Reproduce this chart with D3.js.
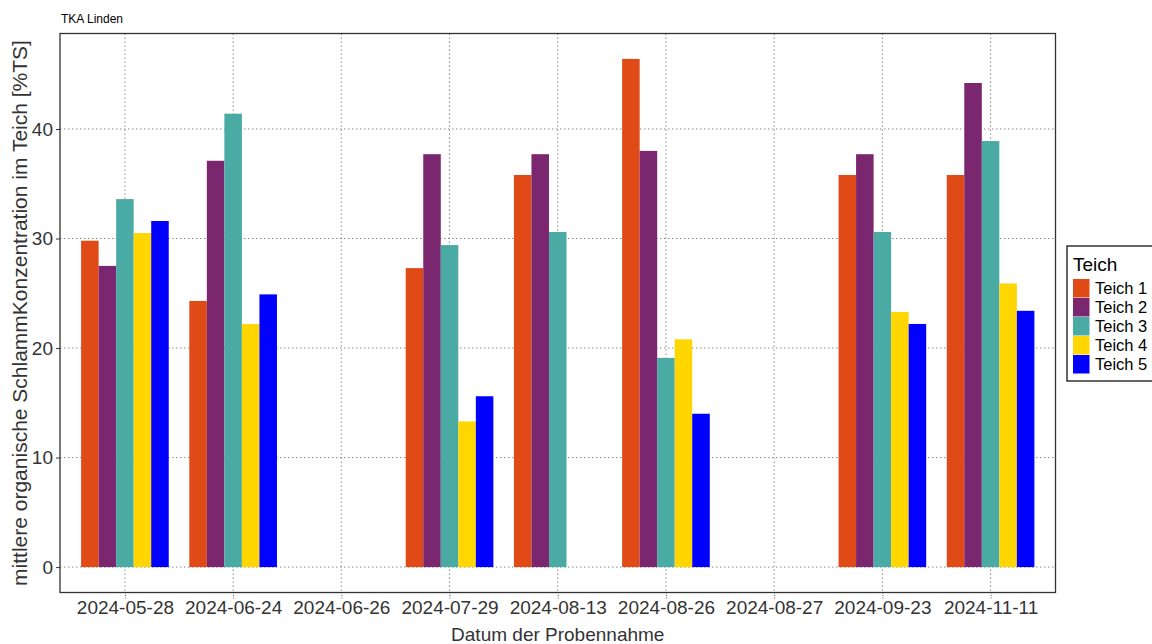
<!DOCTYPE html>
<html>
<head>
<meta charset="utf-8">
<script src="https://cdn.jsdelivr.net/npm/d3@7"></script>
<style>
  html, body { margin: 0; padding: 0; background: #fff; }
  svg { display: block; font-family: "Liberation Sans", Arial, sans-serif; }
</style>
</head>
<body>
<svg id="chart" width="1152" height="644"></svg>
<script>
// Sampling dates (x categories)
const dates = ["2024-05-28", "2024-06-24", "2024-06-26", "2024-07-29", "2024-08-13",
               "2024-08-26", "2024-08-27", "2024-09-23", "2024-11-11"];
// Ponds (fill groups)
const ponds = ["Teich 1", "Teich 2", "Teich 3", "Teich 4", "Teich 5"];
const pondColors = ["#E04A17", "#7A276F", "#4AABA4", "#FFD600", "#0000FF"];
// Mean organic sludge concentration [%TS] per pond, one entry per date (null = no sample)
const teich1 = [29.8, 24.3, null, 27.3, 35.8, 46.4, null, 35.8, 35.8];
const teich2 = [27.5, 37.1, null, 37.7, 37.7, 38.0, null, 37.7, 44.2];
const teich3 = [33.6, 41.4, null, 29.4, 30.6, 19.1, null, 30.6, 38.9];
const teich4 = [30.5, 22.2, null, 13.3, null, 20.8, null, 23.3, 25.9];
const teich5 = [31.6, 24.9, null, 15.6, null, 14.0, null, 22.2, 23.4];
const yTicks = [0, 10, 20, 30, 40];

const seriesValues = [teich1, teich2, teich3, teich4, teich5];
const rows = [];
dates.forEach((d, i) => {
  ponds.forEach((p, j) => {
    const v = seriesValues[j][i];
    if (v != null) rows.push({ date: d, pond: p, value: v });
  });
});

const svg = d3.select("#chart");
const panel = { left: 60, top: 33.5, right: 1055.5, bottom: 592.5 };

// Discrete x scale with 0.6 padding on each side
const n = dates.length;
const step = (panel.right - panel.left) / (n - 1 + 1.2);
const x = d3.scalePoint().domain(dates)
  .range([panel.left + 0.6 * step, panel.right - 0.6 * step]);
const groupWidth = 0.81 * step;
const xi = d3.scaleBand().domain(ponds).range([-groupWidth / 2, groupWidth / 2]).padding(0);

const maxV = d3.max(rows, d => d.value);
const y = d3.scaleLinear()
  .domain([-0.05 * maxV, maxV * 1.05])
  .range([panel.bottom, panel.top]);

const color = d3.scaleOrdinal().domain(ponds).range(pondColors);

// Grid lines
const grid = svg.append("g");
grid.selectAll("line.h").data(yTicks).join("line")
  .attr("x1", panel.left).attr("x2", panel.right)
  .attr("y1", d => y(d)).attr("y2", d => y(d))
  .attr("stroke", "#8c8c8c").attr("stroke-width", 1).attr("stroke-dasharray", "1.5,2.5");
grid.selectAll("line.v").data(dates).join("line")
  .attr("x1", d => x(d)).attr("x2", d => x(d))
  .attr("y1", panel.top).attr("y2", panel.bottom)
  .attr("stroke", "#8c8c8c").attr("stroke-width", 1).attr("stroke-dasharray", "1.5,2.5");

// Bars
svg.append("g").selectAll("rect").data(rows).join("rect")
  .attr("x", d => x(d.date) + xi(d.pond))
  .attr("width", xi.bandwidth())
  .attr("y", d => y(d.value))
  .attr("height", d => y(0) - y(d.value))
  .attr("fill", d => color(d.pond));

// Panel border
svg.append("rect")
  .attr("x", panel.left).attr("y", panel.top)
  .attr("width", panel.right - panel.left).attr("height", panel.bottom - panel.top)
  .attr("fill", "none").attr("stroke", "#333").attr("stroke-width", 1.3);

// Y axis
const yAxis = svg.append("g").attr("transform", `translate(${panel.left},0)`)
  .call(d3.axisLeft(y).tickValues(yTicks).tickSize(4).tickPadding(3).tickFormat(d3.format("d")));
yAxis.select(".domain").remove();
yAxis.selectAll(".tick line").attr("stroke", "#333");
yAxis.selectAll(".tick text").attr("font-size", 19).attr("fill", "#333")
  .attr("font-family", "Liberation Sans, Arial, sans-serif");

// X axis
const xAxis = svg.append("g").attr("transform", `translate(0,${panel.bottom})`)
  .call(d3.axisBottom(x).tickSize(6).tickPadding(2));
xAxis.select(".domain").remove();
xAxis.selectAll(".tick line").attr("stroke", "#555").attr("stroke-dasharray", "1,1.5");
xAxis.selectAll(".tick text").attr("font-size", 19).attr("fill", "#333")
  .attr("font-family", "Liberation Sans, Arial, sans-serif");

// Titles
svg.append("text").attr("x", 61).attr("y", 23)
  .attr("font-size", 12).attr("fill", "#000").text("TKA Linden");
svg.append("text")
  .attr("x", (panel.left + panel.right) / 2).attr("y", 641)
  .attr("text-anchor", "middle").attr("font-size", 19).attr("fill", "#333")
  .text("Datum der Probennahme");
svg.append("text")
  .attr("transform", `translate(27,${(panel.top + panel.bottom) / 2}) rotate(-90)`)
  .attr("text-anchor", "middle").attr("font-size", 21).attr("fill", "#333")
  .text("mittlere organische SchlammKonzentration im Teich [%TS]");

// Legend
const lg = svg.append("g").attr("transform", "translate(1067,246)");
lg.append("rect").attr("x", 0).attr("y", 0).attr("width", 90).attr("height", 135)
  .attr("fill", "#fff").attr("stroke", "#000").attr("stroke-width", 1.2);
lg.append("text").attr("x", 6).attr("y", 25).attr("font-size", 19).text("Teich");
const items = lg.selectAll("g.item").data(ponds).join("g")
  .attr("transform", (d, i) => `translate(6,${33 + i * 19})`);
items.append("rect").attr("width", 16.5).attr("height", 18.5).attr("fill", d => color(d));
items.append("text").attr("x", 22).attr("y", 15).attr("font-size", 16.5).text(d => d);
</script>
</body>
</html>
